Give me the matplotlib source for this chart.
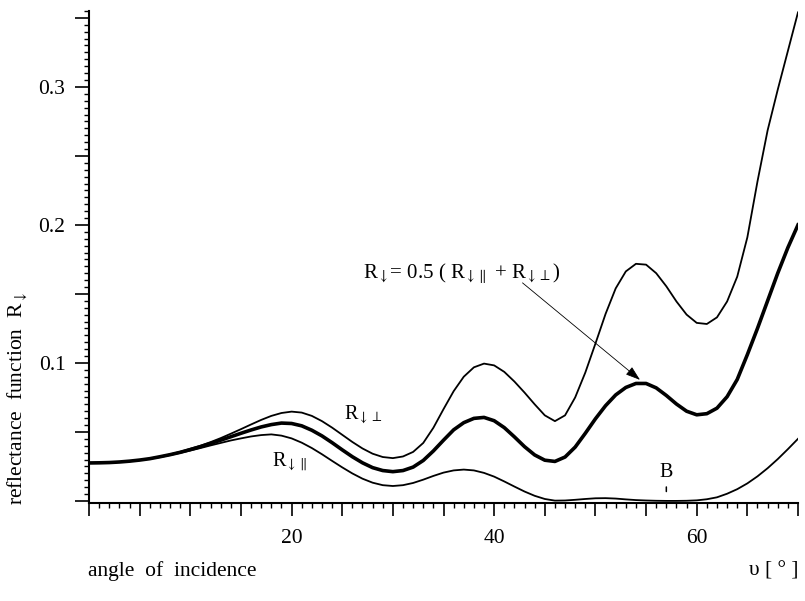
import numpy as np
import matplotlib
matplotlib.use("Agg")
import matplotlib.pyplot as plt
from matplotlib.ticker import MultipleLocator, FuncFormatter

# angle of incidence in degrees, one value per degree
angle = np.arange(0, 71)

# R perpendicular (upper thin curve)
r_perp = [0.0275, 0.0276, 0.0278, 0.0282, 0.0288, 0.0296, 0.0307, 0.0321, 0.0337, 0.0356,
          0.0378, 0.0400, 0.0426, 0.0455, 0.0487, 0.0520, 0.0554, 0.0587, 0.0616, 0.0637,
          0.0647, 0.0640, 0.0616, 0.0578, 0.0531, 0.0479, 0.0427, 0.0380, 0.0342, 0.0318,
          0.0310, 0.0322, 0.0355, 0.0420, 0.0530, 0.0665, 0.0795, 0.0900, 0.0968, 0.0995,
          0.0982, 0.0935, 0.0865, 0.0785, 0.0700, 0.0620, 0.0578, 0.0620, 0.0750, 0.0930,
          0.1140, 0.1355, 0.1540, 0.1663, 0.1718, 0.1712, 0.1650, 0.1555, 0.1445, 0.1350,
          0.1290, 0.1282, 0.1330, 0.1445, 0.1625, 0.1910, 0.2315, 0.2685, 0.2980, 0.3260,
          0.3540]

# R = 0.5 (R_par + R_perp) (thick curve)
r_mean = [0.0275, 0.0276, 0.0278, 0.0282, 0.0288, 0.0296, 0.0306, 0.0320, 0.0335, 0.0352,
          0.0372, 0.0393, 0.0416, 0.0440, 0.0465, 0.0490, 0.0514, 0.0536, 0.0553, 0.0564,
          0.0561, 0.0544, 0.0512, 0.0471, 0.0422, 0.0370, 0.0320, 0.0276, 0.0241, 0.0220,
          0.0212, 0.0220, 0.0245, 0.0293, 0.0362, 0.0440, 0.0515, 0.0567, 0.0598, 0.0605,
          0.0581, 0.0531, 0.0464, 0.0393, 0.0333, 0.0295, 0.0286, 0.0318, 0.0390, 0.0490,
          0.0595, 0.0690, 0.0768, 0.0822, 0.0851, 0.0851, 0.0819, 0.0764, 0.0702, 0.0650,
          0.0624, 0.0632, 0.0672, 0.0755, 0.0880, 0.1060, 0.1250, 0.1450, 0.1650, 0.1835,
          0.2000]

# R parallel (lower thin curve)
r_par = [0.0275, 0.0276, 0.0278, 0.0282, 0.0287, 0.0295, 0.0305, 0.0317, 0.0332, 0.0348,
         0.0365, 0.0383, 0.0402, 0.0420, 0.0438, 0.0453, 0.0467, 0.0477, 0.0482, 0.0473,
         0.0453, 0.0422, 0.0383, 0.0338, 0.0290, 0.0243, 0.0199, 0.0161, 0.0132, 0.0114,
         0.0108, 0.0114, 0.0130, 0.0154, 0.0181, 0.0205, 0.0221, 0.0227, 0.0221, 0.0203,
         0.0176, 0.0141, 0.0104, 0.0068, 0.0037, 0.0014, 0.0002, 0.0003, 0.0008, 0.0014,
         0.0019, 0.0020, 0.0017, 0.0011, 0.0006, 0.0003, 0.0001, 0.0000, 0.0000, 0.0001,
         0.0004, 0.0012, 0.0026, 0.0052, 0.0085, 0.0127, 0.0178, 0.0237, 0.0303, 0.0375,
         0.0450]

brewster = 57

plt.rcParams['font.family'] = ['Liberation Serif', 'DejaVu Serif']
plt.rcParams['mathtext.fontset'] = 'stix'

fig = plt.figure(figsize=(8.05, 6.01), dpi=100)
ax = fig.add_axes([0.1106, 0.1631, 0.8807, 0.8186])

ax.plot(angle, r_perp, color='black', lw=1.3)
ax.plot(angle, r_par, color='black', lw=1.3)
ax.plot(angle, r_mean, color='black', lw=2.6)

ax.set_xlim(0, 70)
ax.set_ylim(-0.0015, 0.355)
for s in ['top', 'right']:
    ax.spines[s].set_visible(False)
for s in ['left', 'bottom']:
    ax.spines[s].set_linewidth(1.5)

ax.xaxis.set_major_locator(MultipleLocator(5))
ax.xaxis.set_minor_locator(MultipleLocator(1))
ax.xaxis.set_major_formatter(FuncFormatter(
    lambda v, p: '%d' % round(v) if round(v) % 20 == 0 and round(v) != 0 else ''))
ax.yaxis.set_major_locator(MultipleLocator(0.05))
ax.yaxis.set_minor_locator(MultipleLocator(0.005))
ax.yaxis.set_major_formatter(FuncFormatter(
    lambda v, p: '%.1f' % v if abs(v * 10 - round(v * 10)) < 1e-6 and round(v * 10) != 0 else ''))

ax.tick_params(axis='x', which='major', length=9.5, width=1.2, direction='out', labelsize=15.5, pad=9)
ax.tick_params(axis='x', which='minor', length=3.6, width=1.0, direction='out')
ax.tick_params(axis='y', which='major', length=10, width=1.2, direction='out', labelsize=15.5, pad=7)
ax.tick_params(axis='y', which='minor', length=3.5, width=1.0, direction='out')

# curve labels
ax.text(27.05, 0.0623, 'R$_{\\downarrow\\perp}$', ha='center', va='center', fontsize=14.5)
ax.text(19.74, 0.0283, 'R$_{\\downarrow\\parallel}$', ha='center', va='center', fontsize=14.5)
ax.text(27.05, 0.1645,
        'R$_{\\downarrow}$= 0.5 ( R$_{\\downarrow\\parallel}$ + R$_{\\downarrow\\perp}$)',
        ha='left', va='center', fontsize=15)
ax.annotate('', xy=(54.4, 0.0877), xytext=(42.8, 0.158),
            arrowprops=dict(arrowstyle='-|>,head_length=0.6,head_width=0.2', lw=0.6,
                            color='black', mutation_scale=15, shrinkA=0, shrinkB=0))
# Brewster angle marker
ax.annotate('B', xy=(brewster, 0.0068), xytext=(brewster, 0.0205), ha='center', va='center',
            fontsize=14.5, arrowprops=dict(arrowstyle='-', lw=1.1, shrinkA=1.5, shrinkB=0))

fig.text(88 / 805, 1 - 571 / 601, 'angle  of  incidence', ha='left', va='center', fontsize=15.5)
fig.text(798 / 805, 1 - 571 / 601, 'υ [ ° ]', ha='right', va='center', fontsize=15.5)
fig.text(18 / 805, 1 - 505 / 601, 'reflectance  function  R$_{\\downarrow}$', rotation=90,
         ha='center', va='bottom', fontsize=15.5)

fig.savefig('out.png', dpi=100, facecolor='white')
